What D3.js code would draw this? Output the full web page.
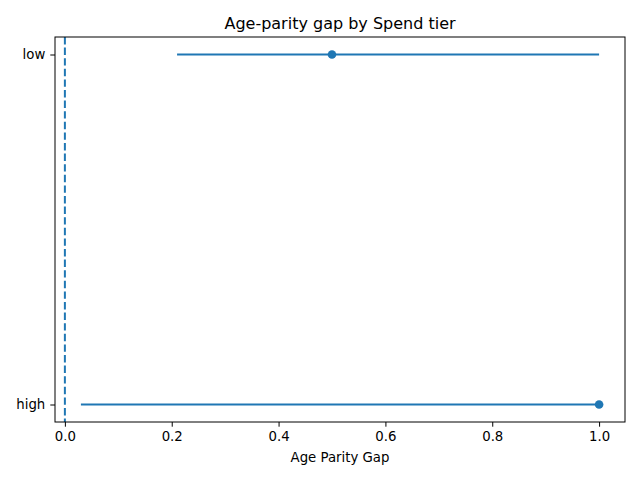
<!DOCTYPE html>
<html>
<head>
<meta charset="utf-8">
<script src="https://cdn.jsdelivr.net/npm/d3@7"></script>
<style>
  body { margin: 0; background: #fff; }
  text { font-family: "DejaVu Sans", sans-serif; fill: #000; }
</style>
</head>
<body>
<div class="chart"></div>
<script>
// data
var tiers = ["high", "low"];
var gapMean = [1.0, 0.5];
var ciLow = [0.03, 0.21];
var ciHigh = [1.0, 1.0];
var xTicks = [0.0, 0.2, 0.4, 0.6, 0.8, 1.0];

var margin = {top: 37, right: 15, bottom: 58, left: 55},
    width = 640 - margin.left - margin.right,
    height = 480 - margin.top - margin.bottom;

var blue = "#1f77b4";

var svg = d3.select(".chart").append("svg")
    .attr("width", 640)
    .attr("height", 480);

var g = svg.append("g")
    .attr("transform", "translate(" + margin.left + "," + margin.top + ")");

// matplotlib-like 5% padding around the data
var lo = d3.min(ciLow), hi = d3.max(ciHigh), pad = (hi - lo) * 0.05;
var x = d3.scaleLinear().domain([lo - pad, hi + pad]).range([0, width]);
var y = d3.scaleLinear().domain([-0.05, tiers.length - 1 + 0.05]).range([height, 0]);

var rows = tiers.map(function(t, i) {
  return {tier: t, i: i, mean: gapMean[i], lo: ciLow[i], hi: ciHigh[i]};
});

// zero reference line
g.append("line")
    .attr("x1", x(0)).attr("x2", x(0))
    .attr("y1", 0).attr("y2", height)
    .attr("stroke", blue)
    .attr("stroke-width", 2)
    .attr("stroke-dasharray", "7.4,3.2");

g.selectAll(".ci")
    .data(rows)
    .enter().append("line")
    .attr("class", "ci")
    .attr("x1", function(d) { return x(d.lo); })
    .attr("x2", function(d) { return x(d.hi); })
    .attr("y1", function(d) { return y(d.i); })
    .attr("y2", function(d) { return y(d.i); })
    .attr("stroke", blue)
    .attr("stroke-width", 2);

g.selectAll(".pt")
    .data(rows)
    .enter().append("circle")
    .attr("class", "pt")
    .attr("cx", function(d) { return x(d.mean); })
    .attr("cy", function(d) { return y(d.i); })
    .attr("r", 4.3)
    .attr("fill", blue);

// axes
var xAxis = g.append("g")
    .attr("transform", "translate(0," + height + ")")
    .call(d3.axisBottom(x).tickValues(xTicks).tickFormat(d3.format(".1f")).tickSize(4.7).tickPadding(5));

var yAxis = g.append("g")
    .call(d3.axisLeft(y).tickValues(tiers.map(function(t, i) { return i; }))
      .tickFormat(function(i) { return tiers[i]; }).tickSize(4.7).tickPadding(5));

[xAxis, yAxis].forEach(function(a) {
  a.select(".domain").remove();
  a.selectAll("line").attr("stroke", "#000").attr("stroke-width", 1);
  a.selectAll("text").style("font-size", "13.3px").style("font-family", "DejaVu Sans, sans-serif");
});

// frame
g.append("rect")
    .attr("width", width).attr("height", height)
    .attr("fill", "none")
    .attr("stroke", "#000")
    .attr("stroke-width", 1);

svg.append("text")
    .attr("x", margin.left + width / 2)
    .attr("y", 29)
    .attr("text-anchor", "middle")
    .style("font-size", "16px")
    .text("Age-parity gap by Spend tier");

svg.append("text")
    .attr("x", margin.left + width / 2)
    .attr("y", 462)
    .attr("text-anchor", "middle")
    .style("font-size", "13.3px")
    .text("Age Parity Gap");
</script>
</body>
</html>
